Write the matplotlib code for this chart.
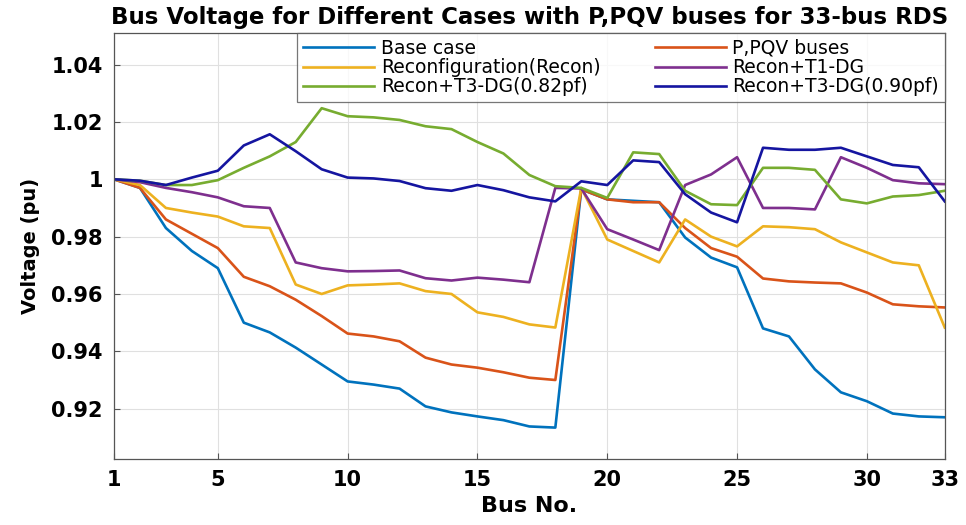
import numpy as np
import matplotlib.pyplot as plt

plt.rcParams['font.family'] = ['DejaVu Sans']

bus = np.arange(1, 34)

base_case = [1.000, 0.997, 0.983, 0.975, 0.969, 0.950, 0.9466, 0.9413, 0.9354, 0.9295,
             0.9284, 0.927, 0.9208, 0.9187, 0.9173, 0.916, 0.9138, 0.9134, 0.9965, 0.993,
             0.9925, 0.992, 0.9797, 0.9727, 0.9693, 0.948, 0.9452, 0.9337, 0.9257, 0.9226,
             0.9183, 0.9173, 0.917]
p_pqv = [1.000, 0.997, 0.986, 0.981, 0.976, 0.966, 0.9627, 0.958, 0.9523, 0.9462,
         0.9452, 0.9435, 0.9378, 0.9354, 0.9343, 0.9327, 0.9308, 0.930, 0.9965, 0.993,
         0.992, 0.992, 0.983, 0.976, 0.973, 0.9654, 0.9644, 0.964, 0.9637, 0.9605,
         0.9564, 0.9557, 0.9553]
recon = [1.000, 0.998, 0.990, 0.9884, 0.987, 0.9836, 0.983, 0.9633, 0.960, 0.963,
         0.9633, 0.9637, 0.961, 0.960, 0.9536, 0.952, 0.9494, 0.9483, 0.997, 0.979,
         0.975, 0.971, 0.986, 0.980, 0.9766, 0.9836, 0.9833, 0.9826, 0.978, 0.9745,
         0.971, 0.970, 0.9483]
recon_t1 = [1.000, 0.999, 0.997, 0.9955, 0.9937, 0.9906, 0.990, 0.971, 0.969, 0.9679,
            0.968, 0.9682, 0.9655, 0.9647, 0.9657, 0.965, 0.9641, 0.997, 0.9968, 0.9826,
            0.979, 0.9753, 0.998, 1.0017, 1.0077, 0.990, 0.990, 0.9895, 1.0077, 1.004,
            0.9997, 0.9986, 0.9983]
recon_t3_082 = [1.000, 0.9995, 0.998, 0.998, 0.9997, 1.004, 1.008, 1.013, 1.0248, 1.022,
                1.0216, 1.0207, 1.0185, 1.0175, 1.013, 1.009, 1.0015, 0.9976, 0.997, 0.9935,
                1.0094, 1.0088, 0.996, 0.9913, 0.991, 1.004, 1.004, 1.0033, 0.993, 0.9916,
                0.994, 0.9945, 0.996]
recon_t3_090 = [1.000, 0.9995, 0.998, 1.0006, 1.003, 1.0118, 1.0157, 1.0098, 1.0035, 1.0006,
                1.0003, 0.9994, 0.9969, 0.996, 0.998, 0.9962, 0.9937, 0.9923, 0.9993, 0.998,
                1.0066, 1.006, 0.9948, 0.9884, 0.985, 1.011, 1.0103, 1.0103, 1.011, 1.008,
                1.005, 1.0042, 0.9923]

labels = ['Base case', 'P,PQV buses', 'Reconfiguration(Recon)', 'Recon+T1-DG',
          'Recon+T3-DG(0.82pf)', 'Recon+T3-DG(0.90pf)']
colors = ['#0072BD', '#D95319', '#EDB120', '#7E2F8E', '#77AC30', '#1515A0']
xticks = [1, 5, 10, 15, 20, 25, 30, 33]
yticks = [0.92, 0.94, 0.96, 0.98, 1.00, 1.02, 1.04]

fig = plt.figure(figsize=(9.66, 5.25), dpi=100)
ax = fig.add_axes([0.118, 0.126, 0.860, 0.811])

series = [base_case, p_pqv, recon, recon_t1, recon_t3_082, recon_t3_090]
lines = []
for vals, lab, c in zip(series, labels, colors):
    ln, = ax.plot(bus, vals, color=c, linewidth=1.9, label=lab)
    lines.append(ln)

ax.set_xlim(1, 33)
ax.set_ylim(0.9025, 1.051)
ax.set_xticks(xticks)
ax.set_yticks(yticks)
ax.set_yticklabels(['0.92', '0.94', '0.96', '0.98', '1', '1.02', '1.04'])
ax.grid(True, color='#e0e0e0', linewidth=0.8)
ax.tick_params(direction='in', length=4, labelsize=15, color='#555555', pad=8)
for lbl in ax.get_xticklabels() + ax.get_yticklabels():
    lbl.set_fontweight('bold')
for s in ax.spines.values():
    s.set_color('#555555')
    s.set_linewidth(0.9)

ax.set_xlabel('Bus No.', fontsize=16, fontweight='bold', labelpad=4)
ax.set_ylabel('Voltage (pu)', fontsize=14, fontweight='bold', labelpad=8)
ax.set_title('Bus Voltage for Different Cases with P,PQV buses for 33-bus RDS',
             fontsize=16.5, fontweight='bold', pad=6.5)

# legend filled row by row: reorder handles for matplotlib's column-major fill
order = [0, 2, 4, 1, 3, 5]
leg = ax.legend([lines[i] for i in order], [labels[i] for i in order],
                ncol=2, loc='upper right', fontsize=13.5, frameon=True, fancybox=False,
                handlelength=3.8, handletextpad=0.35, borderaxespad=0,
                columnspacing=2.9, labelspacing=0.02, borderpad=0.3)
leg.get_frame().set_edgecolor('#555555')
leg.get_frame().set_linewidth(0.9)

fig.savefig('out.png', dpi=100)
